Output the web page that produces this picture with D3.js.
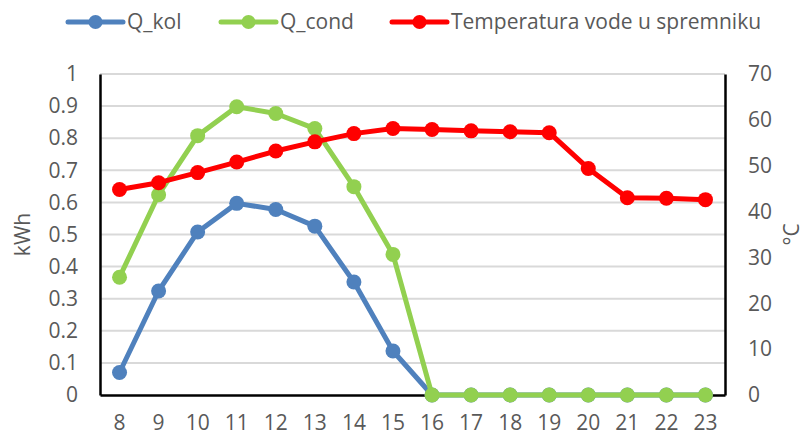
<!DOCTYPE html>
<html>
<head>
<meta charset="utf-8">
<script src="https://cdn.jsdelivr.net/npm/d3@7"></script>
<style>
body { margin: 0; background: white; }
text { font-family: "Open Sans", sans-serif; fill: #595959; }
</style>
</head>
<body>
<script>

const hours = [8, 9, 10, 11, 12, 13, 14, 15, 16, 17, 18, 19, 20, 21, 22, 23];
const qKol = [0.07, 0.324, 0.508, 0.597, 0.578, 0.526, 0.352, 0.137, 0, 0, 0, 0, 0, 0, 0, 0];
const qCond = [0.367, 0.624, 0.808, 0.898, 0.877, 0.83, 0.649, 0.438, 0, 0, 0, 0, 0, 0, 0, 0];
const temp = [44.8, 46.3, 48.5, 50.8, 53.2, 55.2, 57.0, 58.1, 57.9, 57.6, 57.4, 57.2, 49.4, 43.0, 42.9, 42.6];
const leftTicks = [0, 0.1, 0.2, 0.3, 0.4, 0.5, 0.6, 0.7, 0.8, 0.9, 1];
const rightTicks = [0, 10, 20, 30, 40, 50, 60, 70];

const series = [
  {name: "Q_kol", values: qKol, color: "#4f81bd", axis: "left"},
  {name: "Q_cond", values: qCond, color: "#92d050", axis: "left"},
  {name: "Temperatura vode u spremniku", values: temp, color: "#ff0000", axis: "right"}
];

const W = 807, H = 437;
const fs = 21;
const svg = d3.select("body").append("svg").attr("width", W).attr("height", H);

const margin = {top: 74, right: 82, bottom: 42, left: 100};
const width = W - margin.left - margin.right;
const height = H - margin.top - margin.bottom;
const g = svg.append("g").attr("transform", `translate(${margin.left}, ${margin.top})`);

const x = d3.scaleBand().domain(hours).range([0, width]);
const yL = d3.scaleLinear().domain([0, 1]).range([height, 0]);
const yR = d3.scaleLinear().domain([0, 70]).range([height, 0]);

// gridlines
g.append("g")
  .selectAll("line")
  .data(leftTicks.filter(d => d > 0))
  .join("line")
  .attr("x1", 0).attr("x2", width)
  .attr("y1", d => yL(d)).attr("y2", d => yL(d))
  .attr("stroke", "#d9d9d9").attr("stroke-width", 2);

// axes
const leftAxis = g.append("g")
  .call(d3.axisLeft(yL).tickValues(leftTicks).tickFormat(d3.format("")).tickSize(0).tickPadding(22));
const rightAxis = g.append("g").attr("transform", `translate(${width},0)`)
  .call(d3.axisRight(yR).tickValues(rightTicks).tickSize(0).tickPadding(23));
const bottomAxis = g.append("g").attr("transform", `translate(0,${height})`)
  .call(d3.axisBottom(x).tickSize(0).tickPadding(28));

[leftAxis, rightAxis, bottomAxis].forEach(a => {
  a.select(".domain").attr("stroke", "black").attr("stroke-width", 2.5);
  a.selectAll("text").attr("font-size", fs).attr("fill", "#595959")
    .style("font-family", "'Open Sans', sans-serif");
});
bottomAxis.selectAll("text").attr("dy", "0.35em");

// axis titles
svg.append("text")
  .attr("transform", `translate(30, ${margin.top + height / 2}) rotate(-90)`)
  .attr("text-anchor", "middle").attr("font-size", fs).text("kWh");
svg.append("text")
  .attr("transform", `translate(799, ${margin.top + height / 2}) rotate(-90)`)
  .attr("text-anchor", "middle").attr("font-size", fs).text("°C");

// lines
series.forEach(s => {
  const y = s.axis === "left" ? yL : yR;
  const pts = s.values.map((v, i) => [x(hours[i]) + x.bandwidth() / 2, y(v)]);
  g.append("path").datum(pts)
    .attr("fill", "none").attr("stroke", s.color).attr("stroke-width", 5)
    .attr("stroke-linejoin", "round")
    .attr("d", d3.line());
  g.append("g").selectAll("circle").data(pts).join("circle")
    .attr("cx", d => d[0]).attr("cy", d => d[1]).attr("r", 7.5)
    .attr("fill", s.color);
});

// legend
const legendX = [68, 221, 392];
const legend = svg.append("g");
series.forEach((s, i) => {
  const lg = legend.append("g").attr("transform", `translate(${legendX[i]}, 22)`);
  lg.append("line").attr("x1", 0).attr("x2", 55).attr("y1", 0).attr("y2", 0)
    .attr("stroke", s.color).attr("stroke-width", 5).attr("stroke-linecap", "round");
  lg.append("circle").attr("cx", 27.5).attr("cy", 0).attr("r", 7).attr("fill", s.color);
  lg.append("text").attr("x", 59).attr("y", 0).attr("dy", "0.35em")
    .attr("font-size", fs).text(s.name);
});

</script>
</body>
</html>
